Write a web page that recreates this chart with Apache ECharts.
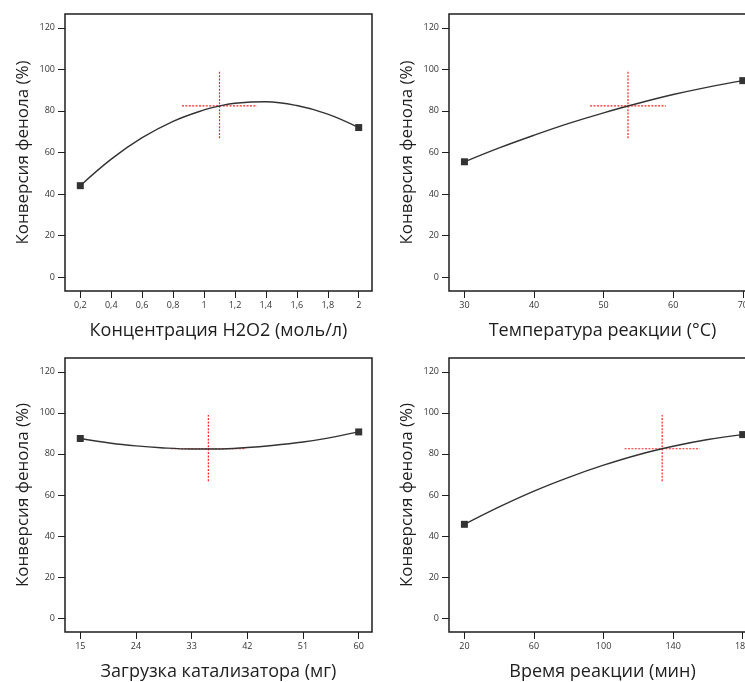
<!DOCTYPE html>
<html>
<head>
<meta charset="utf-8">
<script src="https://cdn.jsdelivr.net/npm/echarts@6/dist/echarts.min.js"></script>
<style>
  html, body { margin: 0; padding: 0; background: #fff; overflow: hidden; }
  #chart { width: 758px; height: 682px; }
</style>
</head>
<body>
<div id="chart"></div>
<script>
// One-factor response curves: phenol conversion vs. each process variable.
const yTitle = 'Конверсия фенола (%)';
const xTitles = ['Концентрация H2O2 (моль/л)', 'Температура реакции (°C)', 'Загрузка катализатора (мг)', 'Время реакции (мин)'];

const yTicks = [0, 20, 40, 60, 80, 100, 120];
const xTicksH2O2 = [0.2, 0.4, 0.6, 0.8, 1, 1.2, 1.4, 1.6, 1.8, 2];
const xTicksTemp = [30, 40, 50, 60, 70];
const xTicksCat = [15, 24, 33, 42, 51, 60];
const xTicksTime = [20, 60, 100, 140, 180];

// Predicted curves [factor value, conversion %]
const curveH2O2 = [[0.2, 44.0], [0.4, 56.8], [0.6, 67.1], [0.8, 75.0], [1.0, 80.5], [1.1, 82.4], [1.2, 83.7], [1.4, 84.4], [1.6, 82.6], [1.8, 78.5], [2.0, 72.0]];
const curveTemp = [[30, 55.5], [35, 62.2], [40, 68.3], [45, 74.0], [50, 79.1], [55, 83.7], [60, 87.9], [65, 91.5], [70, 94.6]];
const curveCat = [[15, 87.5], [20, 85.2], [24, 83.9], [28, 83.0], [33, 82.4], [37, 82.4], [42, 83.1], [46, 84.1], [51, 85.8], [55, 87.7], [60, 90.7]];
const curveTime = [[20, 45.7], [40, 54.2], [60, 61.9], [80, 68.6], [100, 74.5], [120, 79.6], [140, 83.7], [160, 87.0], [180, 89.4]];

// Centre point of each factor and its error bars
const crossX = [1.1, 53.5, 35.7, 133.7];
const crossY = [82.4, 82.4, 82.5, 82.5];
const crossHalfWidth = [0.2425, 5.44, 6.06, 21.6];
const crossLow = [66.8, 66.8, 66.7, 66.7];
const crossHigh = [98.9, 98.9, 98.9, 98.9];

// Axis extents (value at the frame edges)
const xMin = [0.101, 27.78, 12.53, 11.14];
const xMax = [2.086, 71.9, 62.15, 187.65];
const yMin = -6.75;
const yMax = 126.7;

const curves = [curveH2O2, curveTemp, curveCat, curveTime];
const xTickSets = [xTicksH2O2, xTicksTemp, xTicksCat, xTicksTime];

const gridBoxes = [
  { left: 65, top: 14 },
  { left: 449, top: 14 },
  { left: 65, top: 358 },
  { left: 449, top: 358 }
];

const font = '"Open Sans", "Noto Sans", sans-serif';
const ink = '#1e1e1e';

const grids = gridBoxes.map(b => ({
  left: b.left, top: b.top, width: 307, height: 277,
  show: true, borderColor: ink, borderWidth: 1.5, backgroundColor: 'transparent',
  containLabel: false
}));

const xAxes = xTickSets.map((ticks, i) => ({
  type: 'value', gridIndex: i, min: xMin[i], max: xMax[i], position: 'bottom',
  name: xTitles[i], nameLocation: 'middle', nameGap: 31,
  nameTextStyle: { fontFamily: font, fontSize: 18, color: ink },
  axisLine: { show: false, onZero: false },
  axisTick: { show: true, length: 7, customValues: ticks, lineStyle: { color: ink, width: 1 } },
  axisLabel: {
    customValues: ticks, margin: 10, fontFamily: font, fontSize: 9, color: '#333',
    formatter: v => String(v).replace('.', ',')
  },
  splitLine: { show: false }
}));

const yAxes = [0, 1, 2, 3].map(i => ({
  type: 'value', gridIndex: i, min: yMin, max: yMax, position: 'left',
  name: yTitle, nameLocation: 'middle', nameGap: 33,
  nameTextStyle: { fontFamily: font, fontSize: 17, color: ink },
  axisLine: { show: false, onZero: false },
  axisTick: { show: true, length: 7, customValues: yTicks, lineStyle: { color: ink, width: 1 } },
  axisLabel: { customValues: yTicks, margin: 10, fontFamily: font, fontSize: 9, color: '#333' },
  splitLine: { show: false }
}));

const series = [];
curves.forEach((pts, i) => {
  // error bars around the centre point
  series.push({
    type: 'line', xAxisIndex: i, yAxisIndex: i, silent: true, symbol: 'none',
    lineStyle: { color: '#f22', width: 1.2, type: [2, 1.4] },
    data: [[crossX[i] - crossHalfWidth[i], crossY[i]], [crossX[i] + crossHalfWidth[i], crossY[i]]]
  });
  series.push({
    type: 'line', xAxisIndex: i, yAxisIndex: i, silent: true, symbol: 'none',
    lineStyle: { color: '#f22', width: 1.2, type: [2, 1.4] },
    data: [[crossX[i], crossLow[i]], [crossX[i], crossHigh[i]]]
  });
  // model curve
  series.push({
    type: 'line', xAxisIndex: i, yAxisIndex: i, silent: true, symbol: 'none', smooth: 0.4,
    lineStyle: { color: '#333', width: 1.4 },
    data: pts
  });
  // end markers at the low and high factor levels
  series.push({
    type: 'scatter', xAxisIndex: i, yAxisIndex: i, silent: true,
    symbol: 'rect', symbolSize: 7, itemStyle: { color: '#000' },
    data: [pts[0], pts[pts.length - 1]]
  });
});

const chart = echarts.init(document.getElementById('chart'), null, { renderer: 'canvas' });
chart.setOption({
  animation: false,
  backgroundColor: '#fff',
  grid: grids,
  xAxis: xAxes,
  yAxis: yAxes,
  series: series
});
</script>
</body>
</html>
